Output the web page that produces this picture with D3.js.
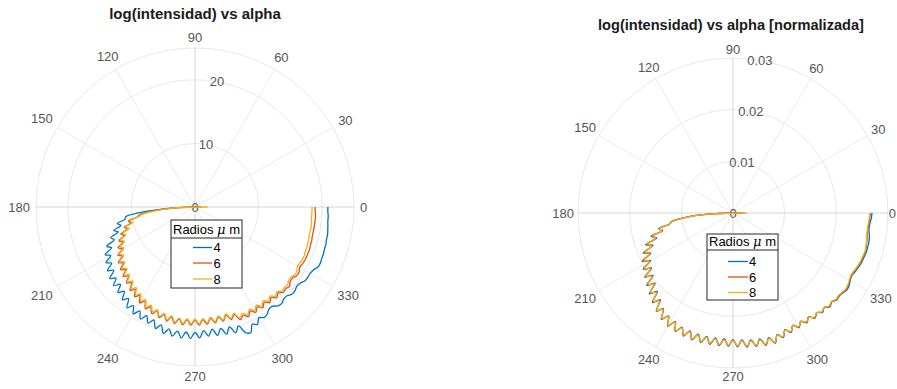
<!DOCTYPE html>
<html><head><meta charset="utf-8">
<script src="https://cdn.jsdelivr.net/npm/d3@7"></script>
<style>body{margin:0;background:#fff}svg{display:block}text{font-family:"Liberation Sans",Arial,sans-serif}</style>
</head><body>
<svg id="chart" width="897" height="389"></svg>
<script>
// ---------- data ----------
const theta = [180,182,184,186,188,190,192,194,196,198,200,202,204,206,208,210,212,214,216,218,220,222,224,226,228,230,232,234,236,238,240,242,244,246,248,250,252,254,256,258,260,262,264,266,268,270,272,274,276,278,280,282,284,286,288,290,292,294,296,298,300,302,304,306,308,310,312,314,316,318,320,322,324,326,328,330,332,334,336,338,340,342,344,346,348,350,352,354,356,358,360];
const seriesNames = ["4","6","8"];
const seriesColors = ["#0072BD","#D95319","#EDB120"];

const left4 = [-0.5,2.0,5.5,9.0,11.0,11.2,12.5,12.0,13.3,12.7,14.1,13.7,15.2,14.6,16.0,15.3,16.5,15.8,17.0,16.2,17.5,16.7,17.8,16.9,18.1,17.3,18.5,17.8,19.1,18.3,19.4,18.5,19.6,18.7,19.7,18.9,20.1,19.3,20.5,19.6,20.6,19.7,20.7,19.7,20.7,19.7,20.6,19.5,20.4,19.4,20.5,19.5,20.6,19.6,20.8,19.9,21.3,21.6,20.5,20.9,20.1,20.5,20.3,19.8,19.8,20.3,20.4,20.1,20.1,20.5,20.5,20.3,20.4,20.8,20.9,20.9,21.1,21.5,21.6,21.5,21.5,21.4,21.4,21.3,21.3,21.2,21.1,21.0,21.0,20.9,20.9];
const left6 = [-1.0,2.5,5.0,7.0,8.8,9.3,10.7,10.4,11.6,11.2,12.4,12.0,13.1,12.6,13.7,13.2,14.3,13.8,14.9,14.3,15.3,14.7,15.7,15.1,16.1,15.5,16.6,16.0,17.0,16.4,17.4,16.8,17.8,17.2,18.1,17.4,18.3,17.6,18.5,17.7,18.6,17.8,18.6,17.8,18.6,17.8,18.6,17.8,18.5,17.7,18.5,17.7,18.5,17.7,18.6,18.0,19.1,18.6,19.2,18.5,19.1,18.5,19.1,18.5,19.1,18.6,19.2,18.8,19.3,19.2,19.4,19.0,19.0,19.3,19.3,19.0,19.1,19.2,19.2,19.2,19.2,19.1,19.1,19.0,19.0,19.0,19.0,19.0,19.0,18.9,18.9];
const left8 = [-2.0,2.3,4.7,6.7,8.4,9.1,10.4,10.1,11.3,10.9,12.1,11.7,12.8,12.3,13.4,12.9,14.0,13.5,14.6,14.0,15.0,14.4,15.4,14.8,15.8,15.2,16.3,15.7,16.7,16.1,17.1,16.5,17.5,16.9,17.8,17.2,18.1,17.4,18.3,17.5,18.4,17.6,18.4,17.6,18.4,17.6,18.4,17.6,18.3,17.5,18.3,17.5,18.3,17.5,18.4,17.8,18.8,18.3,18.9,18.2,18.8,18.2,18.8,18.2,18.8,18.3,18.9,18.5,19.0,18.9,19.0,18.7,18.7,19.0,18.9,18.6,18.7,18.8,18.8,18.7,18.7,18.6,18.6,18.5,18.5,18.5,18.5,18.4,18.4,18.4,18.4];

const right4 = [-0.0015,0.0035,0.0075,0.0100,0.0120,0.0125,0.0147,0.0140,0.0165,0.0155,0.0180,0.0167,0.0190,0.0177,0.0199,0.0184,0.0205,0.0190,0.0211,0.0196,0.0218,0.0203,0.0225,0.0211,0.0233,0.0219,0.0241,0.0229,0.0248,0.0235,0.0253,0.0238,0.0255,0.0242,0.0257,0.0243,0.0258,0.0244,0.0258,0.0244,0.0258,0.0244,0.0258,0.0244,0.0258,0.0245,0.0259,0.0246,0.0261,0.0248,0.0262,0.0249,0.0264,0.0251,0.0265,0.0250,0.0260,0.0247,0.0257,0.0246,0.0256,0.0247,0.0256,0.0249,0.0258,0.0252,0.0259,0.0254,0.0261,0.0257,0.0262,0.0261,0.0263,0.0266,0.0265,0.0262,0.0260,0.0262,0.0264,0.0266,0.0267,0.0268,0.0269,0.0269,0.0269,0.0268,0.0266,0.0265,0.0266,0.0268,0.0269];
const right6 = [-0.0020,0.0035,0.0075,0.0100,0.0119,0.0126,0.0146,0.0141,0.0163,0.0157,0.0178,0.0169,0.0188,0.0179,0.0197,0.0186,0.0203,0.0192,0.0209,0.0198,0.0216,0.0205,0.0223,0.0213,0.0231,0.0221,0.0240,0.0230,0.0247,0.0236,0.0252,0.0239,0.0254,0.0243,0.0256,0.0244,0.0257,0.0245,0.0257,0.0245,0.0257,0.0245,0.0257,0.0245,0.0257,0.0246,0.0258,0.0247,0.0260,0.0249,0.0261,0.0250,0.0263,0.0252,0.0264,0.0251,0.0259,0.0248,0.0256,0.0247,0.0255,0.0248,0.0255,0.0249,0.0257,0.0252,0.0258,0.0254,0.0260,0.0257,0.0261,0.0260,0.0262,0.0264,0.0263,0.0261,0.0259,0.0260,0.0262,0.0264,0.0265,0.0266,0.0267,0.0266,0.0265,0.0264,0.0263,0.0263,0.0264,0.0265,0.0266];
const right8 = [-0.0027,0.0033,0.0073,0.0098,0.0118,0.0126,0.0145,0.0142,0.0161,0.0158,0.0176,0.0170,0.0186,0.0180,0.0195,0.0187,0.0202,0.0193,0.0208,0.0199,0.0215,0.0206,0.0222,0.0214,0.0230,0.0222,0.0239,0.0231,0.0246,0.0237,0.0251,0.0240,0.0253,0.0244,0.0255,0.0245,0.0256,0.0246,0.0256,0.0246,0.0256,0.0246,0.0256,0.0246,0.0256,0.0247,0.0257,0.0248,0.0259,0.0250,0.0260,0.0251,0.0262,0.0253,0.0263,0.0251,0.0258,0.0248,0.0255,0.0247,0.0254,0.0248,0.0254,0.0250,0.0256,0.0252,0.0257,0.0254,0.0259,0.0256,0.0260,0.0259,0.0261,0.0263,0.0262,0.0260,0.0258,0.0259,0.0261,0.0263,0.0264,0.0265,0.0266,0.0265,0.0264,0.0263,0.0262,0.0262,0.0263,0.0264,0.0265];

const thetaTicks = [0,30,60,90,120,150,180,210,240,270,300,330];
const thetaTickLabels = ["0","30","60","90","120","150","180","210","240","270","300","330"];
const leftRTicks = [0,10,20];
const leftRTickLabels = ["0","10","20"];
const leftRMax = 25;
const rightRTicks = [0,0.01,0.02,0.03];
const rightRTickLabels = ["0","0.01","0.02","0.03"];
const rightRMax = 0.03;
const titles = ["log(intensidad) vs alpha","log(intensidad) vs alpha [normalizada]"];
const legendTitle = ["Radios ","\u03bc"," m"];

// ---------- drawing ----------
const W = 897;
const svg = d3.select("#chart");

function drawPolar(cfg){
  const g = svg.append("g").attr("transform",`translate(${cfg.cx},${cfg.cy})`);
  const r = d3.scaleLinear().domain([0,cfg.rMax]).range([0,cfg.R]);
  const a = d3.scaleLinear().domain([0,360]).range([Math.PI/2, Math.PI/2 - 2*Math.PI]);
  const px = (rr,t)=> rr*Math.sin(a(t));
  const py = (rr,t)=> -rr*Math.cos(a(t));

  const rings = cfg.rTicks.filter(v=>v>0);
  if (rings[rings.length-1] < cfg.rMax) rings.push(cfg.rMax);
  g.selectAll("circle.ring").data(rings).enter().append("circle")
    .attr("r",d=>r(d)).attr("fill","none").attr("stroke","#e8e8e8").attr("stroke-width",1);
  g.selectAll("line.spoke").data(thetaTicks).enter().append("line")
    .attr("x1",0).attr("y1",0)
    .attr("x2",d=>px(cfg.R,d)).attr("y2",d=>py(cfg.R,d))
    .attr("stroke",d=> d%90===0 ? "#d6d6d6" : "#ebebeb").attr("stroke-width",1);

  thetaTicks.forEach((t,i)=>{
    const tx = g.append("text").text(thetaTickLabels[i])
      .attr("font-size",13).attr("fill","#555").attr("text-anchor","middle");
    const w = tx.node().getComputedTextLength();
    const h = 9.5;
    const c = Math.cos(t*Math.PI/180), s = Math.sin(t*Math.PI/180);
    const rr = cfg.R + cfg.gap + Math.abs(c)*w/2 + Math.abs(s)*h/2;
    let x = rr*c;
    const maxX = W - cfg.cx - w/2 - 1;
    if (x > maxX) x = maxX;
    tx.attr("x", x).attr("y", -rr*s).attr("dy","0.36em");
  });
  cfg.rTicks.forEach((v,i)=>{
    g.append("text").text(cfg.rTickLabels[i])
      .attr("font-size",13).attr("fill","#555").attr("text-anchor","middle")
      .attr("x",px(r(v),80)).attr("y",py(r(v),80)).attr("dy","0.36em");
  });

  const line = d3.lineRadial()
    .angle((d,i)=>a(theta[i]))
    .radius(d=>r(d))
    .curve(d3.curveCatmullRom.alpha(0.5));
  cfg.series.forEach((vals,k)=>{
    g.append("path").attr("d",line(vals)).attr("fill","none")
      .attr("stroke",seriesColors[k]).attr("stroke-width",1.3).attr("stroke-linejoin","round");
  });

  svg.append("text").text(cfg.title).attr("x",cfg.titleX).attr("y",cfg.titleY)
    .attr("text-anchor","middle").attr("font-weight","bold").attr("font-size",cfg.titleSize).attr("fill","#1a1a1a");

  const L = cfg.legend;
  const lg = svg.append("g");
  lg.append("rect").attr("x",L.x).attr("y",L.y).attr("width",L.w).attr("height",L.h)
    .attr("fill","#fff").attr("stroke","#262626").attr("stroke-width",1);
  lg.append("line").attr("x1",L.x).attr("x2",L.x+L.w).attr("y1",L.sep).attr("y2",L.sep)
    .attr("stroke","#262626").attr("stroke-width",1);
  const tt = lg.append("text").attr("x",L.x+L.w/2).attr("y",L.titleY).attr("text-anchor","middle")
    .attr("font-size",13).attr("fill","#000");
  tt.append("tspan").text(legendTitle[0]);
  tt.append("tspan").text(legendTitle[1]).attr("font-style","italic").attr("font-family","'DejaVu Serif',serif");
  tt.append("tspan").text(legendTitle[2]);
  seriesNames.forEach((nm,k)=>{
    const y = L.rows[k];
    lg.append("line").attr("x1",L.lx1).attr("x2",L.lx2).attr("y1",y).attr("y2",y)
      .attr("stroke",seriesColors[k]).attr("stroke-width",1.3);
    lg.append("text").text(nm).attr("x",L.tx).attr("y",y).attr("dy","0.36em")
      .attr("font-size",13).attr("fill","#000");
  });
}

drawPolar({cx:195, cy:207, R:159, rMax:leftRMax, rTicks:leftRTicks, rTickLabels:leftRTickLabels, gap:6,
  series:[left4,left6,left8], title:titles[0], titleX:195, titleY:19, titleSize:15,
  legend:{x:171,y:220,w:71,h:68,sep:238,titleY:234,rows:[247.5,263,279],lx1:193,lx2:212,tx:213.5}});
drawPolar({cx:733, cy:213, R:155, rMax:rightRMax, rTicks:rightRTicks, rTickLabels:rightRTickLabels, gap:4,
  series:[right4,right6,right8], title:titles[1], titleX:731, titleY:30, titleSize:14.6,
  legend:{x:707,y:234,w:71,h:66,sep:250,titleY:246,rows:[261.5,277,292.5],lx1:728,lx2:748,tx:749}});
</script>
</body></html>
